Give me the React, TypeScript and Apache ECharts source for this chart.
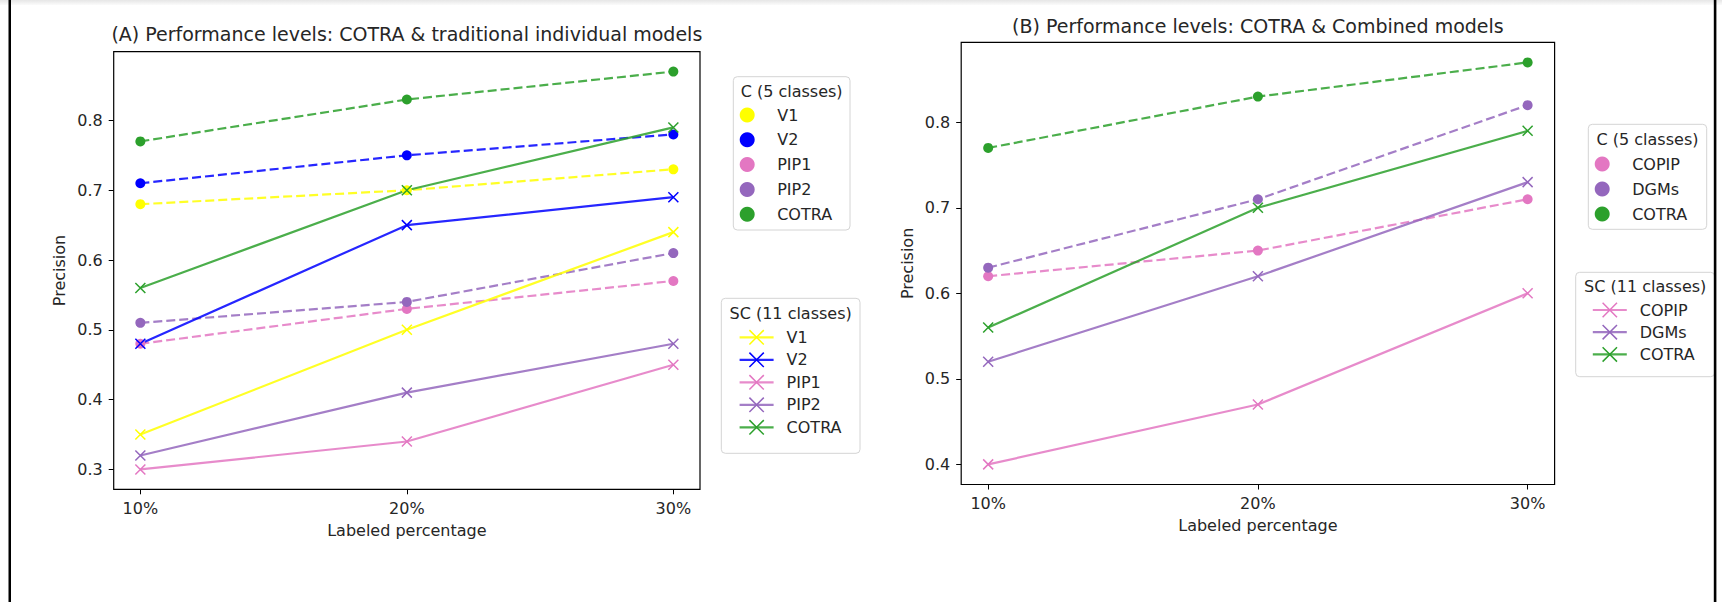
import React, { useEffect, useRef } from 'react';
import * as echarts from 'echarts';

// ---------- data ----------
const xLabels = ['10%', '20%', '30%'];
const yTicksA = [0.3, 0.4, 0.5, 0.6, 0.7, 0.8];
const yTicksB = [0.4, 0.5, 0.6, 0.7, 0.8];

// Panel A — C (5 classes), dashed with circles
const modelsA = ['V1', 'V2', 'PIP1', 'PIP2', 'COTRA'];
const aC_V1 = [0.68, 0.70, 0.73];
const aC_V2 = [0.71, 0.75, 0.78];
const aC_PIP1 = [0.48, 0.53, 0.57];
const aC_PIP2 = [0.51, 0.54, 0.61];
const aC_COTRA = [0.77, 0.83, 0.87];
// Panel A — SC (11 classes), solid with crosses
const aSC_V1 = [0.35, 0.50, 0.64];
const aSC_V2 = [0.48, 0.65, 0.69];
const aSC_PIP1 = [0.30, 0.34, 0.45];
const aSC_PIP2 = [0.32, 0.41, 0.48];
const aSC_COTRA = [0.56, 0.70, 0.79];

// Panel B
const modelsB = ['COPIP', 'DGMs', 'COTRA'];
const bC_COPIP = [0.62, 0.65, 0.71];
const bC_DGMs = [0.63, 0.71, 0.82];
const bC_COTRA = [0.77, 0.83, 0.87];
const bSC_COPIP = [0.40, 0.47, 0.60];
const bSC_DGMs = [0.52, 0.62, 0.73];
const bSC_COTRA = [0.56, 0.70, 0.79];

const colorsA = ['#ffff00', '#0000ff', '#e377c2', '#9467bd', '#2ca02c'];
const colorsB = ['#e377c2', '#9467bd', '#2ca02c'];

const titleA = '(A) Performance levels: COTRA & traditional individual models';
const titleB = '(B) Performance levels: COTRA & Combined models';
const legendTitleC = 'C (5 classes)';
const legendTitleSC = 'SC (11 classes)';

// ---------- styling ----------
const FONT = 'DejaVu Sans';
const TXT = '#262626';
const CROSS = 'path://M0,0L10,10M10,0L0,10';

function mkSeries(prefix: string, model: string, values: number[], color: string, dashed: boolean, g: number) {
  return {
    type: 'line',
    name: `${prefix}|${model}`,
    xAxisIndex: g,
    yAxisIndex: g,
    data: values.map((v, i) => [i, v]),
    symbol: dashed ? 'circle' : CROSS,
    symbolSize: 10,
    showSymbol: true,
    lineStyle: { color, width: 2.2, type: dashed ? [9, 4] : 'solid', opacity: 0.85 },
    itemStyle: dashed
      ? { color, borderWidth: 0 }
      : { color, borderColor: color, borderWidth: 1.5 },
    emphasis: { disabled: true },
  };
}

function xAxis(g: number) {
  return {
    type: 'value',
    gridIndex: g,
    min: -0.1,
    max: 2.1,
    axisLine: { show: false, onZero: false },
    axisTick: { show: true, customValues: [0, 1, 2], length: 5, lineStyle: { color: '#000', width: 1 } },
    axisLabel: {
      customValues: [0, 1, 2],
      formatter: (v: number) => xLabels[Math.round(v)],
      fontSize: 16, color: TXT, fontFamily: FONT, margin: 11,
    },
    splitLine: { show: false },
    name: 'Labeled percentage',
    nameLocation: 'middle',
    nameGap: 33,
    nameTextStyle: { fontSize: 16, color: TXT, fontFamily: FONT },
  };
}

function yAxis(g: number, min: number, max: number, ticks: number[]) {
  return {
    type: 'value',
    gridIndex: g,
    min,
    max,
    axisLine: { show: false, onZero: false },
    axisTick: { show: true, customValues: ticks, length: 5, lineStyle: { color: '#000', width: 1 } },
    axisLabel: {
      customValues: ticks,
      formatter: (v: number) => v.toFixed(1),
      fontSize: 16, color: TXT, fontFamily: FONT, margin: 11,
    },
    splitLine: { show: false },
    name: 'Precision',
    nameLocation: 'middle',
    nameGap: 46,
    nameTextStyle: { fontSize: 16, color: TXT, fontFamily: FONT },
  };
}

const fmt = (n: string) => n.split('|')[1];

function legendC(names: string[], left: number, top: number, gap: number) {
  return {
    data: names.map((n) => ({ name: n, icon: 'circle' })),
    orient: 'vertical', left, top, padding: 0,
    itemWidth: 34, itemHeight: 15, itemGap: gap,
    formatter: fmt, selectedMode: false,
    textStyle: { fontSize: 16, color: TXT, fontFamily: FONT, padding: [0, 0, 0, 8] },
  };
}
function legendSC(names: string[], left: number, top: number, gap: number) {
  return {
    data: names,
    orient: 'vertical', left, top, padding: 0,
    itemWidth: 34, itemHeight: 18, itemGap: gap,
    formatter: fmt, selectedMode: false,
    lineStyle: { width: 2.2 },
    itemStyle: { borderWidth: 1.5 },
    textStyle: { fontSize: 16, color: TXT, fontFamily: FONT, padding: [0, 0, 0, 8] },
  };
}

function box(x: number, y: number, w: number, h: number) {
  return {
    type: 'rect', z: 1,
    shape: { x, y, width: w, height: h, r: 4 },
    style: { fill: 'rgba(255,255,255,0.8)', stroke: '#d4d4d4', lineWidth: 1 },
  };
}
function txt(x: number, y: number, text: string, size: number, align = 'left') {
  return {
    type: 'text', z: 5, x, y,
    style: { text, fontSize: size, fontFamily: FONT, fill: TXT, align, verticalAlign: 'middle' },
  };
}

export default function App() {
  const ref = useRef<HTMLDivElement>(null);
  useEffect(() => {
    if (!ref.current) return;
    const chart = echarts.init(ref.current, undefined, { renderer: 'svg' });

    const aC = [aC_V1, aC_V2, aC_PIP1, aC_PIP2, aC_COTRA];
    const aSC = [aSC_V1, aSC_V2, aSC_PIP1, aSC_PIP2, aSC_COTRA];
    const bC = [bC_COPIP, bC_DGMs, bC_COTRA];
    const bSC = [bSC_COPIP, bSC_DGMs, bSC_COTRA];

    const series: any[] = [];
    modelsA.forEach((m, i) => series.push(mkSeries('A-C', m, aC[i], colorsA[i], true, 0)));
    modelsA.forEach((m, i) => series.push(mkSeries('A-SC', m, aSC[i], colorsA[i], false, 0)));
    modelsB.forEach((m, i) => series.push(mkSeries('B-C', m, bC[i], colorsB[i], true, 1)));
    modelsB.forEach((m, i) => series.push(mkSeries('B-SC', m, bSC[i], colorsB[i], false, 1)));

    const option: any = {
      animation: false,
      backgroundColor: '#ffffff',
      grid: [
        { left: 113.7, top: 51.7, width: 586.3, height: 437.6, show: true, borderColor: '#000', borderWidth: 1.2, backgroundColor: 'transparent' },
        { left: 961.2, top: 42.3, width: 593.4, height: 442.2, show: true, borderColor: '#000', borderWidth: 1.2, backgroundColor: 'transparent' },
      ],
      xAxis: [xAxis(0), xAxis(1)],
      yAxis: [yAxis(0, 0.2715, 0.8985, yTicksA), yAxis(1, 0.3765, 0.8935, yTicksB)],
      legend: [
        legendC(modelsA.map((m) => `A-C|${m}`), 739.7, 107, 8.8),
        legendSC(modelsA.map((m) => `A-SC|${m}`), 738.5, 329.3, 6.5),
        legendC(modelsB.map((m) => `B-C|${m}`), 1594.7, 156, 9),
        legendSC(modelsB.map((m) => `B-SC|${m}`), 1591.7, 302, 6.2),
      ],
      series,
      graphic: [
        {
          type: 'rect', z: 0, shape: { x: 0, y: 0, width: 1722, height: 5 },
          style: { fill: { type: 'linear', x: 0, y: 0, x2: 0, y2: 1, colorStops: [{ offset: 0, color: '#e6e6e6' }, { offset: 1, color: '#fbfbfb' }] } },
        },
        { type: 'rect', z: 10, shape: { x: 8.5, y: 0, width: 2.5, height: 602 }, style: { fill: '#000' } },
        { type: 'rect', z: 10, shape: { x: 1713.8, y: 0, width: 2.6, height: 602 }, style: { fill: '#000' } },
        txt(406.85, 34, titleA, 19, 'center'),
        txt(1257.9, 25.5, titleB, 19, 'center'),
        box(733.3, 76.7, 116.7, 153.3),
        box(721.3, 298.3, 138.7, 155),
        box(1588.3, 124.3, 118.4, 105),
        box(1575.7, 272.3, 139, 104.4),
        txt(791.65, 91.7, legendTitleC, 16, 'center'),
        txt(790.65, 313.3, legendTitleSC, 16, 'center'),
        txt(1647.5, 139.3, legendTitleC, 16, 'center'),
        txt(1645.2, 286.7, legendTitleSC, 16, 'center'),
      ],
    };
    chart.setOption(option);
    return () => chart.dispose();
  }, []);

  return (
    <div
      ref={ref}
      style={{ position: 'absolute', left: 0, top: 0, width: 1722, height: 602, background: '#fff' }}
    />
  );
}
